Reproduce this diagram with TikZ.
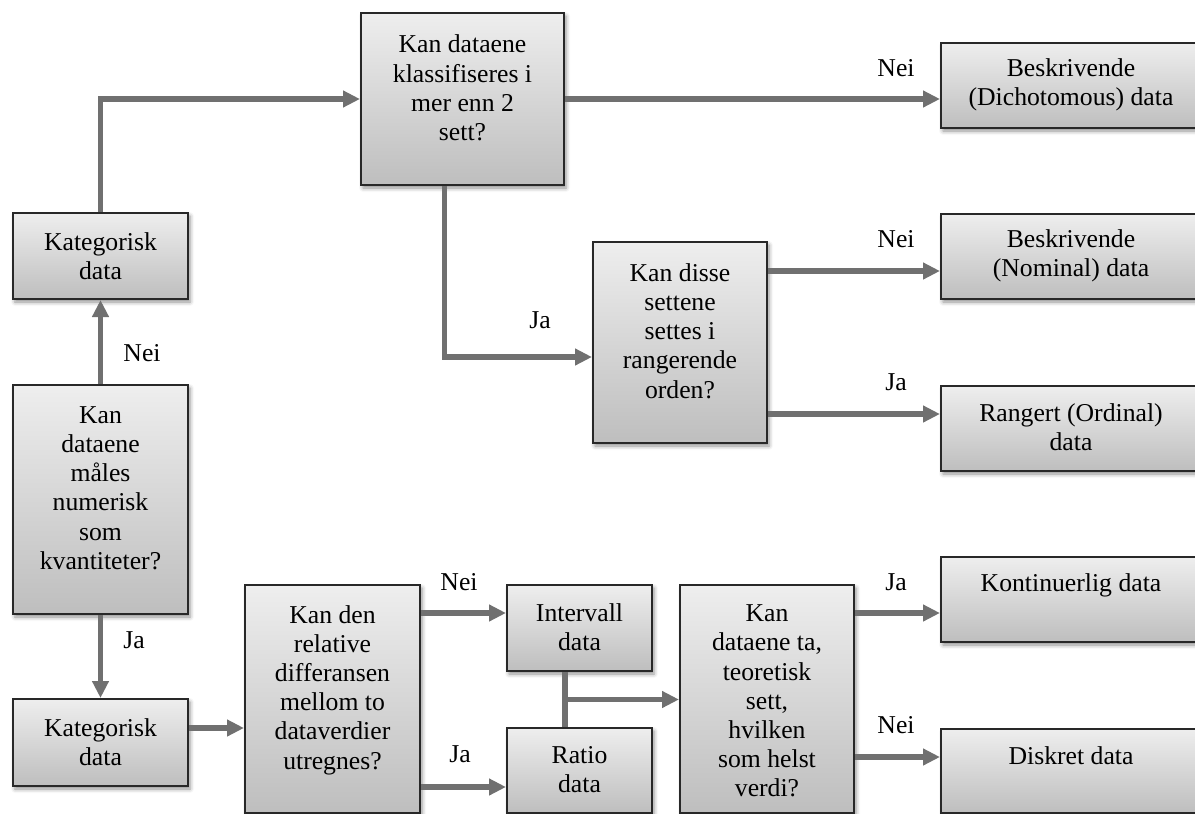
\documentclass[tikz,border=0pt]{standalone}
\usepackage{fontspec}
\setmainfont{Liberation Serif}
\usetikzlibrary{arrows.meta,calc,shadows.blur}
\definecolor{arrowgray}{RGB}{112,112,112}
\definecolor{boxtop}{RGB}{238,238,238}
\definecolor{boxbottom}{RGB}{190,190,190}
\definecolor{boxline}{RGB}{40,40,40}

\begin{document}
\begin{tikzpicture}[x=0.5pt,y=-0.5pt,
  box/.style={draw=boxline, line width=1pt, top color=boxtop, bottom color=boxbottom,
    inner sep=0pt,
    blur shadow={shadow xshift=1pt, shadow yshift=-1.5pt, shadow blur radius=2pt, shadow opacity=45}},
  txt/.style={align=center, inner sep=0pt, font=\fontsize{12.85}{14.6}\selectfont},
  lbl/.style={inner sep=0pt, font=\fontsize{12.85}{14.6}\selectfont},
  link/.style={draw=arrowgray, line width=2.75pt},
  arr/.style={link, -{Triangle[length=8.5pt,width=8pt]}}
]
\useasboundingbox (0,0) rectangle (1195,814);
\clip (0,0) rectangle (1195,814);

% boxes
\node[box, minimum width=101.5pt, minimum height=86pt]   (q1)   at (462.5,99)  {};
\node[box, minimum width=130pt,   minimum height=42.5pt] (dich) at (1071,85.5) {};
\node[box, minimum width=87.5pt,  minimum height=43pt]   (katA) at (100.5,256) {};
\node[box, minimum width=87pt,    minimum height=100.5pt](q2)   at (680,342.5) {};
\node[box, minimum width=130pt,   minimum height=42.5pt] (nom)  at (1071,256.5){};
\node[box, minimum width=130pt,   minimum height=42.5pt] (ord)  at (1071,428.5){};
\node[box, minimum width=87.5pt,  minimum height=114.5pt](q0)   at (100.5,499.5){};
\node[box, minimum width=87.5pt,  minimum height=43.5pt] (katB) at (100.5,742.5){};
\node[box, minimum width=87.5pt,  minimum height=114pt]  (q3)   at (332.5,699) {};
\node[box, minimum width=72.5pt,  minimum height=43pt]   (int)  at (579.5,628) {};
\node[box, minimum width=72.5pt,  minimum height=42.5pt] (rat)  at (579.5,770.5){};
\node[box, minimum width=87pt,    minimum height=114pt]  (q4)   at (767,699)   {};
\node[box, minimum width=130pt,   minimum height=42.5pt] (kont) at (1071,599.5){};
\node[box, minimum width=130pt,   minimum height=42pt]   (disk) at (1071,771)  {};

% box texts
\node[txt] (t-q1)   at (462.5,88) {Kan dataene\\klassifiseres i\\mer enn 2\\sett?};
\node[txt] (t-dich) at (1071,85)  {Beskrivende\\(Dichotomous) data};
\node[txt] (t-katA) at (100.5,256){Kategorisk\\data};
\node[txt] (t-q2)   at (680,331)  {Kan disse\\settene\\settes i\\rangerende\\orden?};
\node[txt] (t-nom)  at (1071,256) {Beskrivende\\(Nominal) data};
\node[txt] (t-ord)  at (1071,427) {Rangert (Ordinal)\\data};
\node[txt] (t-q0)   at (100.5,488){Kan\\dataene\\måles\\numerisk\\som\\kvantiteter?};
\node[txt] (t-katB) at (100.5,742){Kategorisk\\data};
\node[txt] (t-q3)   at (332.5,690){Kan den\\relative\\differansen\\mellom to\\dataverdier\\utregnes?};
\node[txt] (t-int)  at (579.5,627){Intervall\\data};
\node[txt] (t-rat)  at (579.5,770){Ratio\\data};
\node[txt] (t-q4)   at (767,701)  {Kan\\dataene ta,\\teoretisk\\sett,\\hvilken\\som helst\\verdi?};
\node[txt] (t-kont) at (1071,585) {Kontinuerlig data};
\node[txt] (t-disk) at (1071,756) {Diskret data};

% connectors
\draw[arr] (q0.north) -- (katA.south);
\draw[arr] (q0.south) -- (katB.north);
\draw[arr] (katA.north) |- (q1.west);
\draw[arr] (q1.east) -- (dich.west |- q1.east);
\draw[arr] ($(q1.south)+(-18,0)$) |- (q2.west |- 0,357);
\draw[arr] (q2.east |- 0,271) -- (nom.west |- 0,271);
\draw[arr] (q2.east |- 0,414) -- (ord.west |- 0,414);
\draw[arr] (katB.east |- 0,728) -- (q3.west |- 0,728);
\draw[arr] (q3.east |- 0,613) -- (int.west |- 0,613);
\draw[arr] (q3.east |- 0,787) -- (rat.west |- 0,787);
\draw[link] ($(int.south)+(-14.5,0)$) -- ($(rat.north)+(-14.5,0)$);
\coordinate (join) at ($(int.south)!0.5!(rat.north)+(-14.5,0)$);
\draw[arr] (join) -- (q4.west |- join);
\draw[arr] (q4.east |- 0,613) -- (kont.west |- 0,613);
\draw[arr] (q4.east |- 0,757) -- (disk.west |- 0,757);

% answer labels
\node[lbl] (l-q0n)  at (142,353) {Nei};
\node[lbl] (l-q0j)  at (134,640) {Ja};
\node[lbl] (l-q1n)  at (896,68)  {Nei};
\node[lbl] (l-q1j)  at (540,320) {Ja};
\node[lbl] (l-q2n)  at (896,239) {Nei};
\node[lbl] (l-q2j)  at (896,382) {Ja};
\node[lbl] (l-q3n)  at (459,582) {Nei};
\node[lbl] (l-q3j)  at (460,754) {Ja};
\node[lbl] (l-q4j)  at (896,582) {Ja};
\node[lbl] (l-q4n)  at (896,725) {Nei};
\end{tikzpicture}
\end{document}
